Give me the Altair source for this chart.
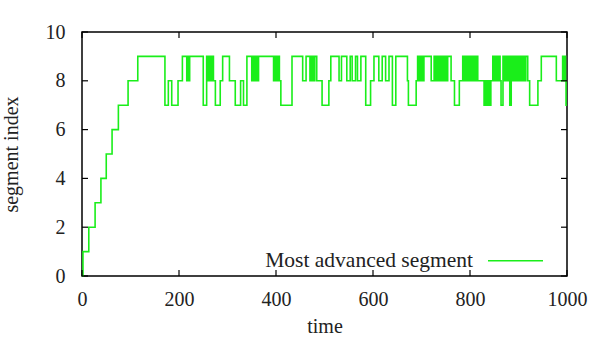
import altair as alt
import pandas as pd

# Change points of the most advanced segment index over time (step-after)
time = [0, 2, 14, 27, 39, 50, 62, 75, 95, 115,
        171, 178, 185, 198, 207, 216, 218, 220, 222,
        250, 257, 259, 261, 263, 265, 267, 269, 271, 275, 285, 290,
        304, 316, 327, 333, 340,
        350, 352, 354, 356, 358, 360, 362, 364,
        395, 397, 399, 401, 403, 405, 407, 410, 433,
        455, 462,
        470, 472, 474, 476, 478, 480, 484, 495,
        509, 513,
        530, 535, 546, 553, 557, 564, 568, 575,
        585, 595, 602, 612, 619, 626, 633, 640, 647, 671, 673, 689, 692,
        694, 696, 698, 700, 702, 705,
        720, 726, 728, 731, 734, 736, 739, 742, 745, 748, 751, 754,
        761, 768, 778, 785,
        788, 791, 794, 797, 800, 803, 806, 809, 812, 814,
        816, 829, 831, 834, 837, 840, 843, 847,
        850, 853, 856, 859, 862, 864, 868, 871, 874, 877, 880, 882, 885,
        888, 891, 894, 897, 900, 903, 906, 909, 912, 915, 919, 923, 940,
        947, 978, 991, 993, 995, 997, 998, 1000]
segment = [0, 1, 2, 3, 4, 5, 6, 7, 8, 9,
           7, 8, 7, 8, 9, 8, 9, 8, 9,
           7, 9, 8, 9, 8, 9, 8, 9, 8, 7, 8, 9,
           8, 7, 8, 7, 9,
           8, 9, 8, 9, 8, 9, 8, 9,
           8, 9, 8, 9, 8, 9, 8, 7, 9,
           8, 9,
           8, 9, 8, 9, 8, 9, 8, 7,
           8, 9,
           8, 9, 8, 9, 8, 9, 8, 9,
           7, 8, 9, 8, 9, 8, 9, 7, 9, 8, 7, 8, 9,
           8, 9, 8, 9, 8, 9,
           8, 9, 8, 9, 8, 9, 8, 9, 8, 9, 8, 9,
           8, 7, 8, 9,
           8, 9, 8, 9, 8, 9, 8, 9, 8, 9,
           8, 7, 8, 7, 8, 7, 8, 9,
           8, 9, 8, 9, 8, 7, 9, 8, 9, 8, 9, 7, 9,
           8, 9, 8, 9, 8, 9, 8, 9, 8, 9, 8, 7, 8,
           9, 8, 9, 8, 9, 8, 7, 7]

x_ticks = [0, 200, 400, 600, 800, 1000]
y_ticks = [0, 2, 4, 6, 8, 10]

W, H = 485, 244
TICK = 6
GREEN = "#1aee1a"
FONT = "Liberation Serif"
FS = 20
TXT = "#222222"

xs = alt.Scale(domain=[0, 1000], nice=False, zero=False)
ys = alt.Scale(domain=[0, 10], nice=False, zero=False)

x_axis = alt.Axis(
    values=x_ticks, format="d", title="time", tickSize=0, domain=False,
    grid=False, labelFlush=False, labelOverlap=False,
    labelPadding=23, labelBaseline="middle", labelFontSize=FS,
    labelFont=FONT, labelColor=TXT,
    titleFont=FONT, titleFontSize=FS, titleFontWeight="normal",
    titleColor=TXT, titleX=W / 2, titleY=50, titleBaseline="middle")
y_axis = alt.Axis(
    values=y_ticks, format="d", title="segment index", tickSize=0,
    domain=False, grid=False, labelFlush=False, labelOverlap=False,
    labelPadding=17, labelFontSize=FS, labelFont=FONT, labelColor=TXT,
    titleFont=FONT, titleFontSize=FS, titleFontWeight="normal",
    titleColor=TXT, titleAngle=-90, titleX=-71, titleY=H / 2,
    titleBaseline="middle", titleAlign="center")

df = pd.DataFrame({"time": time, "segment": segment})
line = alt.Chart(df).mark_line(
    interpolate="step-after", color=GREEN, strokeWidth=1.6
).encode(
    x=alt.X("time:Q", scale=xs, axis=x_axis),
    y=alt.Y("segment:Q", scale=ys, axis=y_axis),
)

xt = pd.DataFrame({"time": x_ticks})
yt = pd.DataFrame({"segment": y_ticks})

# Inward tick marks on all four sides of the frame
xb = alt.Chart(xt).mark_rule(color="black", strokeWidth=1.2).encode(
    x=alt.X("time:Q", scale=xs, axis=x_axis),
    y=alt.value(H), y2=alt.value(H - TICK))
xtop = alt.Chart(xt).mark_rule(color="black", strokeWidth=1.2).encode(
    x=alt.X("time:Q", scale=xs, axis=x_axis),
    y=alt.value(0), y2=alt.value(TICK))
yl = alt.Chart(yt).mark_rule(color="black", strokeWidth=1.2).encode(
    y=alt.Y("segment:Q", scale=ys, axis=y_axis),
    x=alt.value(0), x2=alt.value(TICK))
yr = alt.Chart(yt).mark_rule(color="black", strokeWidth=1.2).encode(
    y=alt.Y("segment:Q", scale=ys, axis=y_axis),
    x=alt.value(W), x2=alt.value(W - TICK))

# Key: label and line sample in the lower right of the plot
key_df = pd.DataFrame({"label": ["Most advanced segment"]})
key_text = alt.Chart(key_df).mark_text(
    font=FONT, fontSize=21.5, color=TXT, align="right", baseline="alphabetic"
).encode(text="label:N", x=alt.value(391), y=alt.value(234.5))
key_line = alt.Chart(key_df).mark_rule(color=GREEN, strokeWidth=1.6).encode(
    x=alt.value(406), x2=alt.value(461), y=alt.value(228.7))

chart = alt.layer(line, xb, xtop, yl, yr, key_text, key_line).properties(
    width=W, height=H,
    autosize=alt.AutoSizeParams(type="none"),
    padding={"left": 82, "top": 32, "right": 29, "bottom": 64},
    background="white",
).configure_view(stroke="black", strokeWidth=1.5)

chart.save("out.html", embed_options={"renderer": "svg", "actions": False})
